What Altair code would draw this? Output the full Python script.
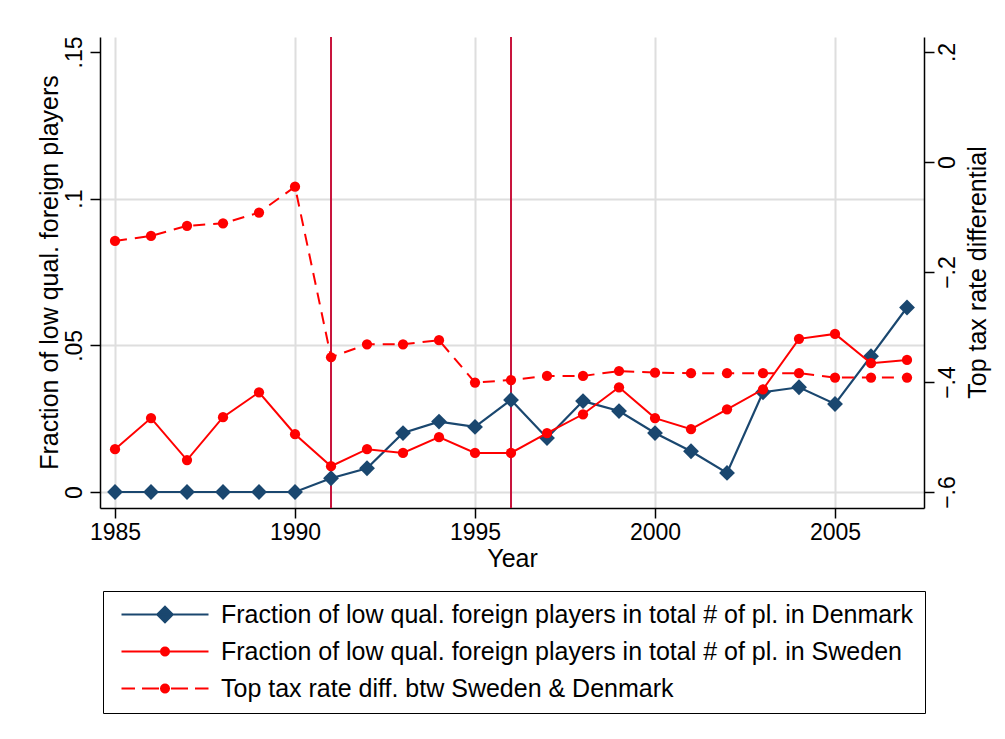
import math
import altair as alt
import pandas as pd

# ---------------- data ----------------
years = list(range(1985, 2008))
denmark = [0, 0, 0, 0, 0, 0, 0.0047, 0.0081, 0.0201, 0.0240, 0.0222, 0.0314,
           0.0184, 0.0310, 0.0276, 0.0201, 0.0139, 0.0065, 0.0340, 0.0357,
           0.0300, 0.0463, 0.0629]
sweden = [0.0146, 0.0252, 0.0109, 0.0255, 0.0340, 0.0197, 0.0088, 0.0146,
          0.0133, 0.0187, 0.0133, 0.0133, 0.0201, 0.0265, 0.0357, 0.0252,
          0.0214, 0.0282, 0.0350, 0.0522, 0.0539, 0.0439, 0.0450]
tax_diff = [-0.1436, -0.1345, -0.1160, -0.1115, -0.0920, -0.0449, -0.3550,
            -0.3315, -0.3315, -0.3240, -0.4010, -0.3964, -0.3890, -0.3890,
            -0.3800, -0.3830, -0.3840, -0.3840, -0.3840, -0.3840, -0.3920,
            -0.3920, -0.3920]
policy_years = [1991, 1996]
series_labels = [
    "Fraction of low qual. foreign players in total # of pl. in Denmark",
    "Fraction of low qual. foreign players in total # of pl. in Sweden",
    "Top tax rate diff. btw Sweden & Denmark",
]
x_ticks = [1985, 1990, 1995, 2000, 2005]
left_ticks = [0, 0.05, 0.1, 0.15]
right_ticks = [-0.6, -0.4, -0.2, 0, 0.2]

df = pd.DataFrame({"year": years, "dk": denmark, "se": sweden, "tax": tax_diff})
vlines = pd.DataFrame({"year": policy_years})
leg = pd.DataFrame({"series": series_labels})

# ---------------- styles ----------------
FONT = "Liberation Sans"
NAVY = "#1a476f"
RED = "#ff0000"
CRAN = "#c8143c"
W, H = 824, 471


def poly(r, n=16):
    pts = [(r * math.cos(2 * math.pi * k / n), r * math.sin(2 * math.pi * k / n)) for k in range(n)]
    return "M" + "L".join(f"{x:.3f},{y:.3f}" for x, y in pts) + "Z"


# legend symbols (unit = 10 px with symbolSize 400)
dot = poly(0.4)
sym_dk = "M-4.35,0L4.35,0M0,-0.78L0.78,0L0,0.78L-0.78,0Z"
sym_se = "M-4.35,0L4.35,0" + dot
sym_tax = "M-4.35,0L-3,0M-2.3,0L-0.6,0M0.6,0L2.3,0M3,0L4.35,0" + dot

xs = alt.Scale(domain=[1984.583, 2007.472], nice=False, zero=False)
yl = alt.Scale(domain=[-0.00545, 0.1551], nice=False, zero=False)
yr = alt.Scale(domain=[-0.6291, 0.2273], nice=False, zero=False)

lab_expr = "datum.value == 0 ? '0' : replace(format(datum.value, '.2~f'), '0.', '.')"

x_axis = alt.Axis(values=x_ticks, format="d", title="Year", grid=True,
                  labelFlush=False, labelPadding=3, titleY=38,
                  titleBaseline="top")
x_enc = alt.X("year:Q", scale=xs, axis=x_axis)

left_axis = alt.Axis(values=left_ticks, labelExpr=lab_expr,
                     title="Fraction of low qual. foreign players",
                     labelAngle=270, labelAlign="center",
                     labelBaseline="alphabetic", labelPadding=9,
                     titleAngle=270, titleX=-38, titleY=235,
                     titleBaseline="bottom", titleAlign="center",
                     grid=True,
                     gridOpacity={"condition": {"test": "datum.value > 0.12", "value": 0}, "value": 1},
                     labelOverlap=False, labelFlush=False)
right_axis = alt.Axis(values=right_ticks, labelExpr=lab_expr, orient="right",
                      title="Top tax rate differential",
                      labelAngle=270, labelAlign="center",
                      labelBaseline="top", labelPadding=2,
                      titleAngle=270, titleX=41, titleY=235,
                      titleBaseline="top", titleAlign="center",
                      grid=False, labelOverlap=False, labelFlush=False)

rules = alt.Chart(vlines).mark_rule(color=CRAN, strokeWidth=2).encode(x=x_enc)

dk_line = alt.Chart(df).mark_line(color=NAVY, strokeWidth=2.2).encode(
    x=x_enc, y=alt.Y("dk:Q", scale=yl, axis=left_axis))
dk_pts = alt.Chart(df).mark_point(shape="diamond", filled=True, size=250,
                                  color=NAVY, opacity=1).encode(
    x=x_enc, y=alt.Y("dk:Q", scale=yl, axis=left_axis))
se_line = alt.Chart(df).mark_line(color=RED, strokeWidth=2).encode(
    x=x_enc, y=alt.Y("se:Q", scale=yl, axis=left_axis))
se_pts = alt.Chart(df).mark_point(shape="circle", filled=True, size=105,
                                  color=RED, opacity=1).encode(
    x=x_enc, y=alt.Y("se:Q", scale=yl, axis=left_axis))

legend = alt.Legend(orient="none", legendX=3, legendY=554, title=None,
                    strokeColor="black", padding=11, fillColor="white",
                    labelFont=FONT, labelFontSize=25, labelColor="black",
                    labelLimit=0, rowPadding=11, symbolSize=400,
                    symbolStrokeWidth=2, symbolOpacity=1, symbolOffset=38.5,
                    labelOffset=43.5, cornerRadius=0)
leg_layer = alt.Chart(leg).transform_filter("false").mark_point(
    filled=True, opacity=1).encode(
    shape=alt.Shape("series:N", scale=alt.Scale(domain=series_labels,
                    range=[sym_dk, sym_se, sym_tax]), legend=legend),
    fill=alt.Fill("series:N", scale=alt.Scale(domain=series_labels,
                  range=[NAVY, RED, RED]), legend=legend),
    stroke=alt.Stroke("series:N", scale=alt.Scale(domain=series_labels,
                      range=[NAVY, RED, RED]), legend=legend),
)

left = alt.layer(rules, dk_line, dk_pts, se_line, se_pts, leg_layer)

tax_line = alt.Chart(df).mark_line(color=RED, strokeWidth=2, strokeDash=[12, 8]).encode(
    x=x_enc, y=alt.Y("tax:Q", scale=yr, axis=right_axis))
tax_pts = alt.Chart(df).mark_point(shape="circle", filled=True, size=105,
                                   color=RED, opacity=1).encode(
    x=x_enc, y=alt.Y("tax:Q", scale=yr, axis=right_axis))
right = alt.layer(tax_line, tax_pts)

chart = alt.layer(left, right).resolve_scale(y="independent").properties(
    width=W, height=H,
    padding={"left": 92, "top": 29, "right": 73, "bottom": 223},
    autosize=alt.AutoSizeParams(type="none"),
    background="white",
).configure_view(stroke=None).configure_axis(
    labelFont=FONT, titleFont=FONT, labelFontSize=23, titleFontSize=25,
    labelColor="black", titleColor="black", titleFontWeight="normal",
    tickSize=10, tickWidth=1.5, tickColor="black",
    domainColor="black", domainWidth=1.5,
    gridColor="#dedede", gridWidth=2,
)

chart.save("out.html", embed_options={"renderer": "svg", "actions": False})
